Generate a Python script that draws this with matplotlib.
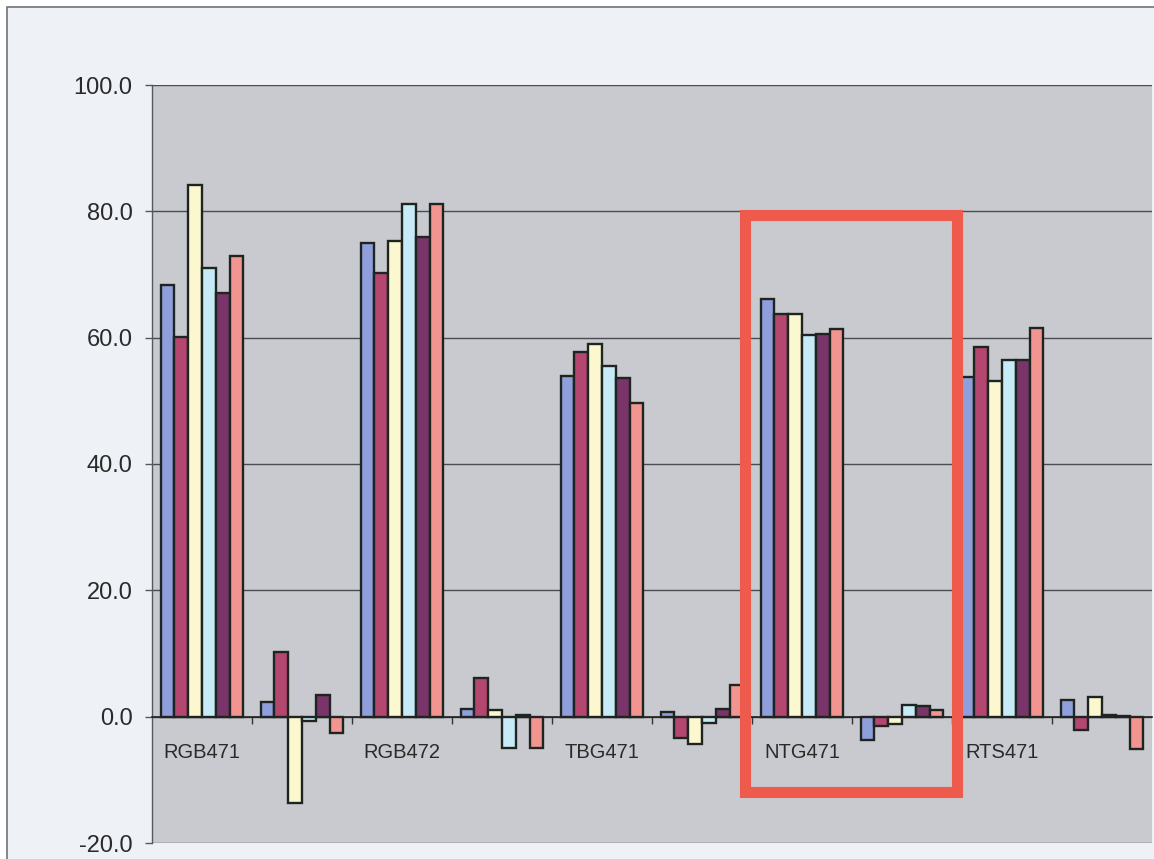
import numpy as np
import matplotlib.pyplot as plt
from matplotlib.patches import Rectangle

plt.rcParams['font.family'] = ['Liberation Sans', 'DejaVu Sans']

# Ten categories; only every other one carries a name
categories = ['RGB471', '', 'RGB472', '', 'TBG471', '', 'NTG471', '', 'RTS471', '']

# Six series, one value per category
series_1 = [68.3, 2.4, 75.0, 1.2, 54.0, 0.8, 66.2, -3.7, 53.8, 2.6]
series_2 = [60.1, 10.3, 70.3, 6.1, 57.8, -3.4, 63.8, -1.4, 58.5, -2.1]
series_3 = [84.2, -13.6, 75.3, 1.0, 59.0, -4.4, 63.7, -1.2, 53.2, 3.1]
series_4 = [71.0, -0.7, 81.1, -4.9, 55.5, -1.0, 60.5, 1.9, 56.5, 0.2]
series_5 = [67.0, 3.5, 76.0, 0.3, 53.6, 1.2, 60.6, 1.7, 56.5, 0.1]
series_6 = [72.9, -2.6, 81.1, -4.9, 49.6, 5.0, 61.4, 1.1, 61.6, -5.1]

y_ticks = [-20, 0, 20, 40, 60, 80, 100]

all_series = [series_1, series_2, series_3, series_4, series_5, series_6]
colors = ['#8f9fdc', '#b3476f', '#fbf8d0', '#c6eaf6', '#79346a', '#f29590']

fig = plt.figure(figsize=(11.54, 8.59), dpi=100)
fig.patch.set_facecolor('white')

# chart area with its thin border
fig.patches.append(Rectangle((7 / 1154, -0.05), 1.1, 1 - 7 / 859 + 0.05,
                             transform=fig.transFigure, facecolor='#eef2f7',
                             edgecolor='#6f7378', linewidth=1.2, zorder=-10))

ax = fig.add_axes([152 / 1154, 16 / 859, 1000 / 1154, 758 / 859])
ax.set_facecolor('#c9cacf')

x = np.arange(len(categories))
w = 0.138
for j, (vals, c) in enumerate(zip(all_series, colors)):
    ax.bar(x + (j - 2.5) * w, vals, width=w, color=c,
           edgecolor='#1e2420', linewidth=1.7, zorder=3)

ax.set_xlim(-0.5, len(categories) - 0.5)
ax.set_ylim(-20, 100)
ax.set_yticks(y_ticks)
ax.set_yticklabels([f'{v:.1f}' for v in y_ticks])
ax.yaxis.grid(True, color='#4a4c50', linewidth=1.0, zorder=1)
ax.set_axisbelow(True)

for side in ['top', 'right']:
    ax.spines[side].set_visible(False)
ax.spines['left'].set_color('#55585c')
ax.spines['left'].set_linewidth(1.0)
ax.spines['bottom'].set_position(('data', 0))
ax.spines['bottom'].set_color('#222222')
ax.spines['bottom'].set_linewidth(1.2)
ax.spines['bottom'].set_zorder(4)

# tick marks between categories, names under the category centres
ax.set_xticks(x[:-1] + 0.5)
ax.set_xticklabels([])
ax.set_xticks(x, minor=True)
ax.set_xticklabels(categories, minor=True)
ax.tick_params(axis='x', which='major', direction='out', length=5,
               color='#333333', width=1)
ax.tick_params(axis='x', which='minor', length=0, pad=19,
               labelsize=14.5, labelcolor='#2a2a2a')
ax.tick_params(axis='y', direction='out', length=5, width=1, color='#55585c',
               pad=9, labelsize=17, labelcolor='#2a2a2a')

# highlight box around the NTG471 group
ax.add_patch(Rectangle((5.43, -11.9), 7.55 - 5.43, 79.4 + 11.9,
                       fill=False, edgecolor='#ee5a4b', linewidth=8,
                       zorder=6, clip_on=False))

fig.savefig('out.png', dpi=100, facecolor=fig.get_facecolor())
